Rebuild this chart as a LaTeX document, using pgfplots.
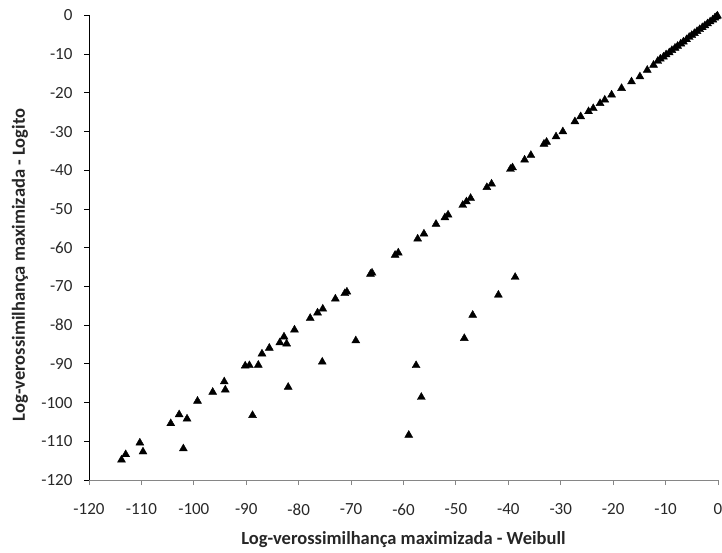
\documentclass[border=0pt]{standalone}
\usepackage{pgfplots}
\pgfplotsset{compat=1.18}
\usepackage{fontspec}
\setmainfont{Carlito}
\definecolor{tickcol}{RGB}{40,40,40}
\definecolor{axgray}{RGB}{134,134,134}
\begin{document}
\begin{tikzpicture}
\begin{axis}[
  name=ax,
  scale only axis,
  width=629pt, height=464.5pt,
  xmin=-120, xmax=0, ymin=-120, ymax=0,
  xtick={-120,-110,...,0}, ytick={-120,-110,...,0},
  axis x line=bottom, axis y line=left,
  x axis line style={-, draw=axgray, line width=0.9pt},
  y axis line style={-, draw=black, line width=0.9pt},
  x tick style={draw=axgray, line width=0.9pt},
  y tick style={draw=black, line width=0.9pt},
  tick align=outside, major tick length=5pt,
  /pgf/number format/assume math mode=true,
  ticklabel style={font=\fontsize{17}{20}\selectfont, text=tickcol},
  xticklabel style={yshift=-15pt},
  yticklabel style={xshift=-8pt},
  xlabel={Log-verossimilhança maximizada - Weibull},
  ylabel={Log-verossimilhança maximizada - Logito},
  label style={font=\bfseries\fontsize{18.5}{22}\selectfont, text=black!85},
  xlabel style={at={(axis description cs:0.5,0)}, anchor=center, yshift=-60pt},
  ylabel style={at={(axis description cs:0,0.463)}, anchor=center, yshift=69pt},
  clip=false,
]
\addplot[only marks, mark=triangle*, mark size=4.6pt, mark options={fill=black, draw=black}] table {
x y
-113.8 -114.8
-113.0 -113.4
-110.3 -110.4
-109.7 -112.7
-104.4 -105.4
-102.8 -103.1
-102.0 -111.9
-101.3 -104.2
-99.3 -99.6
-96.4 -97.3
-94.2 -94.6
-94.0 -96.7
-88.8 -103.3
-90.2 -90.5
-89.4 -90.4
-87.7 -90.3
-87.0 -87.4
-85.6 -85.9
-83.6 -84.5
-82.8 -83.0
-82.3 -84.8
-80.8 -81.2
-82.0 -96.0
-77.8 -78.2
-76.4 -76.8
-75.4 -75.8
-75.5 -89.5
-69.1 -84.0
-73.0 -73.2
-71.2 -71.8
-70.8 -71.4
-66.3 -66.8
-66.0 -66.5
-61.6 -61.9
-61.0 -61.3
-57.3 -57.7
-56.1 -56.4
-53.8 -53.9
-52.1 -52.2
-51.5 -51.5
-48.7 -49.0
-48.0 -48.1
-47.2 -47.2
-44.1 -44.4
-43.2 -43.5
-39.6 -39.7
-39.2 -39.3
-36.9 -37.3
-35.7 -36.1
-33.2 -33.2
-32.7 -32.7
-30.9 -31.3
-29.6 -30.0
-27.3 -27.4
-26.2 -26.1
-24.7 -24.8
-23.8 -24.0
-22.5 -22.7
-21.6 -21.8
-20.3 -20.5
-18.4 -18.8
-16.5 -17.1
-14.9 -15.8
-13.5 -14.1
-12.3 -12.8
-11.5 -11.8
-11.0 -11.2
-10.4 -10.7
-9.9 -10.1
-9.3 -9.6
-8.8 -9.0
-8.2 -8.4
-7.7 -7.9
-7.1 -7.3
-6.6 -6.8
-6.0 -6.2
-5.5 -5.6
-5.0 -5.1
-4.5 -4.6
-4.0 -4.1
-3.5 -3.6
-3.0 -3.1
-2.5 -2.6
-2.0 -2.1
-1.5 -1.6
-1.0 -1.1
-0.6 -0.6
-0.3 -0.3
-0.1 -0.1
-38.7 -67.6
-41.9 -72.2
-46.8 -77.4
-48.4 -83.4
-57.6 -90.4
-56.6 -98.6
-59.0 -108.4
};
\end{axis}
\pgfresetboundingbox
\path[use as bounding box] ([xshift=-89pt,yshift=-72pt]ax.south west) rectangle ([xshift=4pt,yshift=15.5pt]ax.north east);
\end{tikzpicture}
\end{document}
